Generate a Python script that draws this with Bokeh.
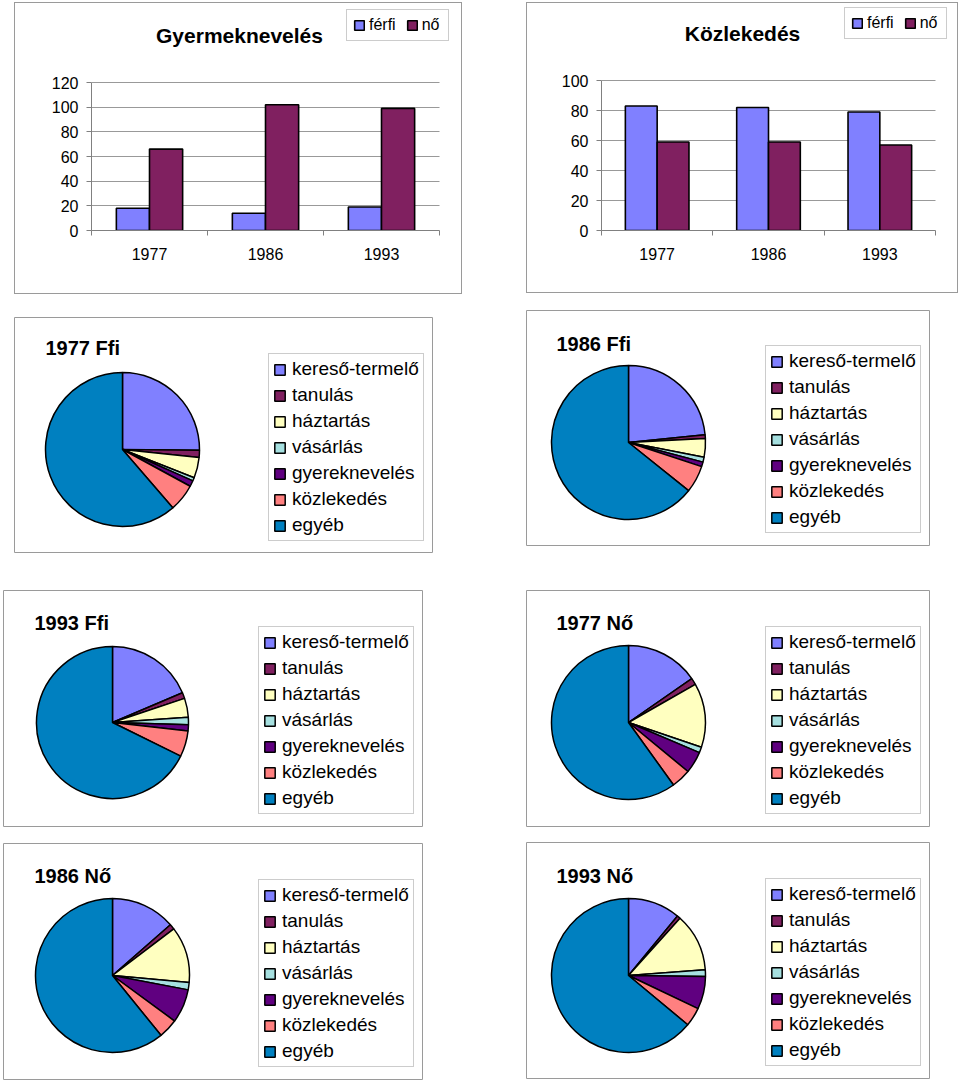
import numpy as np
from bokeh.plotting import figure
from bokeh.models import (ColumnDataSource, Range1d, Legend, LegendItem, Label, Spacer, FixedTicker)
from bokeh.layouts import row, column
from bokeh.transform import dodge
from bokeh.embed import file_html
from bokeh.resources import INLINE

FONT = "Liberation Sans"

# ---- data ----
years = ["1977", "1986", "1993"]
sexes = ["férfi", "nő"]
gyermek_ferfi = [18, 14, 19]
gyermek_no = [66, 102, 99]
kozlek_ferfi = [83, 82, 79]
kozlek_no = [59, 59, 57]

activities = ["kereső-termelő", "tanulás", "háztartás", "vásárlás",
              "gyereknevelés", "közlekedés", "egyéb"]
ffi_1977 = [362, 22, 62, 10, 18, 83, 883]
ffi_1986 = [337, 11, 56, 15, 14, 82, 925]
ffi_1993 = [268, 18, 58, 23, 19, 79, 975]
no_1977 = [221, 20, 194, 17, 66, 59, 863]
no_1986 = [195, 16, 170, 22, 102, 59, 876]
no_1993 = [158, 10, 175, 20, 99, 57, 921]

sex_colors = ["#8080FF", "#802060"]
pie_colors = ["#8080FF", "#802060", "#FFFFC0", "#A6E0E0", "#600080", "#FF8080", "#0080C0"]
BORDER = "#9a9a9a"


def bar_panel(title, ferfi, no, ymax, w, h, left, bottom, area_w, area_h, title_xy, legend_xy):
    # frame spans from plot-area left to panel right, and from panel top to x axis
    fw = w - left
    fh = h - bottom
    n = len(years)
    x_end = 0.5 + n * fw / area_w
    y_end = ymax * fh / area_h
    p = figure(width=w, height=h, x_range=Range1d(0.5, x_end), y_range=Range1d(0, y_end),
               output_backend="svg", toolbar_location=None,
               min_border_left=left, min_border_right=0, min_border_top=0, min_border_bottom=bottom,
               outline_line_color=None, background_fill_color="white", border_fill_color="white")
    p.styles = {"border": "1px solid " + BORDER, "box-sizing": "border-box"}
    pos = list(range(1, n + 1))
    src = ColumnDataSource(dict(pos=pos, year=years, ferfi=ferfi, no=no))
    bw = 1 / 3.5
    r1 = p.vbar(x=dodge("pos", -bw / 2), top="ferfi", width=bw, source=src,
                fill_color=sex_colors[0], line_color="black", line_width=1.6)
    r2 = p.vbar(x=dodge("pos", bw / 2), top="no", width=bw, source=src,
                fill_color=sex_colors[1], line_color="black", line_width=1.6)
    p.xgrid.grid_line_color = None
    p.ygrid.grid_line_color = "#999999"
    for g in p.ygrid:
        if "cross_bounds" in g.properties():
            g.cross_bounds = (0.5, n + 0.5)
    p.yaxis.ticker = FixedTicker(ticks=list(range(0, ymax + 1, 20)))
    p.yaxis.bounds = (0, ymax)
    p.yaxis.axis_line_color = "#808080"
    p.yaxis.major_tick_line_color = "#808080"
    p.yaxis.major_tick_out = 5
    p.yaxis.major_tick_in = 0
    p.yaxis.minor_tick_line_color = None
    p.yaxis.major_label_standoff = 8
    p.xaxis.ticker = FixedTicker(ticks=pos, minor_ticks=[k + 0.5 for k in range(n + 1)])
    p.xaxis.major_label_overrides = {k: y for k, y in zip(pos, years)}
    p.xaxis.bounds = (0.5, n + 0.5)
    p.xaxis.axis_line_color = "#808080"
    p.xaxis.major_tick_line_color = None
    p.xaxis.major_tick_out = 0
    p.xaxis.major_tick_in = 0
    p.xaxis.minor_tick_line_color = "#808080"
    p.xaxis.minor_tick_out = 5
    p.xaxis.minor_tick_in = 0
    p.xaxis.major_label_standoff = 12
    for ax in (p.xaxis, p.yaxis):
        ax.major_label_text_font = FONT
        ax.major_label_text_font_size = "16px"
        ax.major_label_text_color = "black"
    legend = Legend(items=[LegendItem(label=sexes[0], renderers=[r1]),
                           LegendItem(label=sexes[1], renderers=[r2])],
                    location=legend_xy, orientation="horizontal", glyph_width=12, glyph_height=12,
                    label_standoff=4, spacing=10, padding=6, label_height=15,
                    label_text_font=FONT, label_text_font_size="16px", label_text_color="black",
                    border_line_color=BORDER, background_fill_alpha=1.0)
    p.add_layout(legend)
    p.add_layout(Label(x=title_xy[0], y=title_xy[1], x_units="screen", y_units="screen",
                       text=title, text_align="center", text_baseline="middle", text_color="black",
                       text_font=FONT, text_font_size="21px", text_font_style="bold"))
    return p


def pie_panel(title, vals, w, h, cx, cy, r, tx, ty, lx, ly):
    p = figure(width=w, height=h, x_range=Range1d(0, w), y_range=Range1d(0, h),
               x_axis_location=None, y_axis_location=None, min_border=0,
               output_backend="svg", toolbar_location=None,
               outline_line_color=BORDER, outline_line_width=1)
    p.grid.visible = False
    v = np.array(vals, dtype=float)
    frac = v / v.sum()
    cum = np.concatenate([[0.0], np.cumsum(frac)])
    start = np.pi / 2 - cum[:-1] * 2 * np.pi
    end = np.pi / 2 - cum[1:] * 2 * np.pi
    src = ColumnDataSource(dict(start=start, end=end, color=pie_colors, label=activities))
    wr = p.wedge(x=cx, y=h - cy, radius=r, start_angle="start", end_angle="end",
                 direction="clock", fill_color="color", line_color="black", line_width=1.5,
                 source=src)
    items = [LegendItem(label=a, renderers=[wr], index=i) for i, a in enumerate(activities)]
    legend = Legend(items=items, location=(lx, ly), orientation="vertical",
                    glyph_width=13, glyph_height=13, label_standoff=6, spacing=4, padding=4,
                    label_height=20, label_text_font=FONT, label_text_font_size="19px",
                    label_text_color="black",
                    border_line_color=BORDER, background_fill_alpha=1.0)
    p.add_layout(legend)
    p.add_layout(Label(x=tx, y=h - ty, text=title, text_align="left", text_baseline="middle",
                       text_color="black",
                       text_font=FONT, text_font_size="20px", text_font_style="bold"))
    return p


p1 = bar_panel("Gyermeknevelés", gyermek_ferfi, gyermek_no, 120, 448, 292, 76, 65, 348, 148,
               (148, 195), (255, 189))
p2 = bar_panel("Közlekedés", kozlek_ferfi, kozlek_no, 100, 432, 291, 74, 64, 334, 150,
               (141, 197), (243, 191))

p3 = pie_panel("1977 Ffi", ffi_1977, 419, 236, 108, 132, 77, 31, 30, 254, 12)
p4 = pie_panel("1986 Ffi", ffi_1986, 404, 236, 102, 132, 77, 30, 33, 239, 13)
p5 = pie_panel("1993 Ffi", ffi_1993, 420, 237, 109, 132, 76, 31, 32, 255, 13)
p6 = pie_panel("1977 Nő", no_1977, 404, 237, 102, 132, 77, 30, 32, 239, 13)
p7 = pie_panel("1986 Nő", no_1986, 420, 237, 109, 132, 77, 31, 32, 255, 13)
p8 = pie_panel("1993 Nő", no_1993, 404, 237, 102, 133, 77, 30, 33, 239, 13)

left_col = column(
    Spacer(width=1, height=2),
    row(Spacer(width=14, height=1), p1),
    Spacer(width=1, height=23),
    row(Spacer(width=14, height=1), p3),
    Spacer(width=1, height=37),
    row(Spacer(width=3, height=1), p5),
    Spacer(width=1, height=16),
    row(Spacer(width=3, height=1), p7),
)
right_col = column(
    Spacer(width=1, height=2),
    row(p2),
    Spacer(width=1, height=17),
    row(p4),
    Spacer(width=1, height=44),
    row(p6),
    Spacer(width=1, height=15),
    row(p8),
)
layout = row(left_col, Spacer(width=64, height=1), right_col)

open("out.html", "w").write(file_html(layout, INLINE))
